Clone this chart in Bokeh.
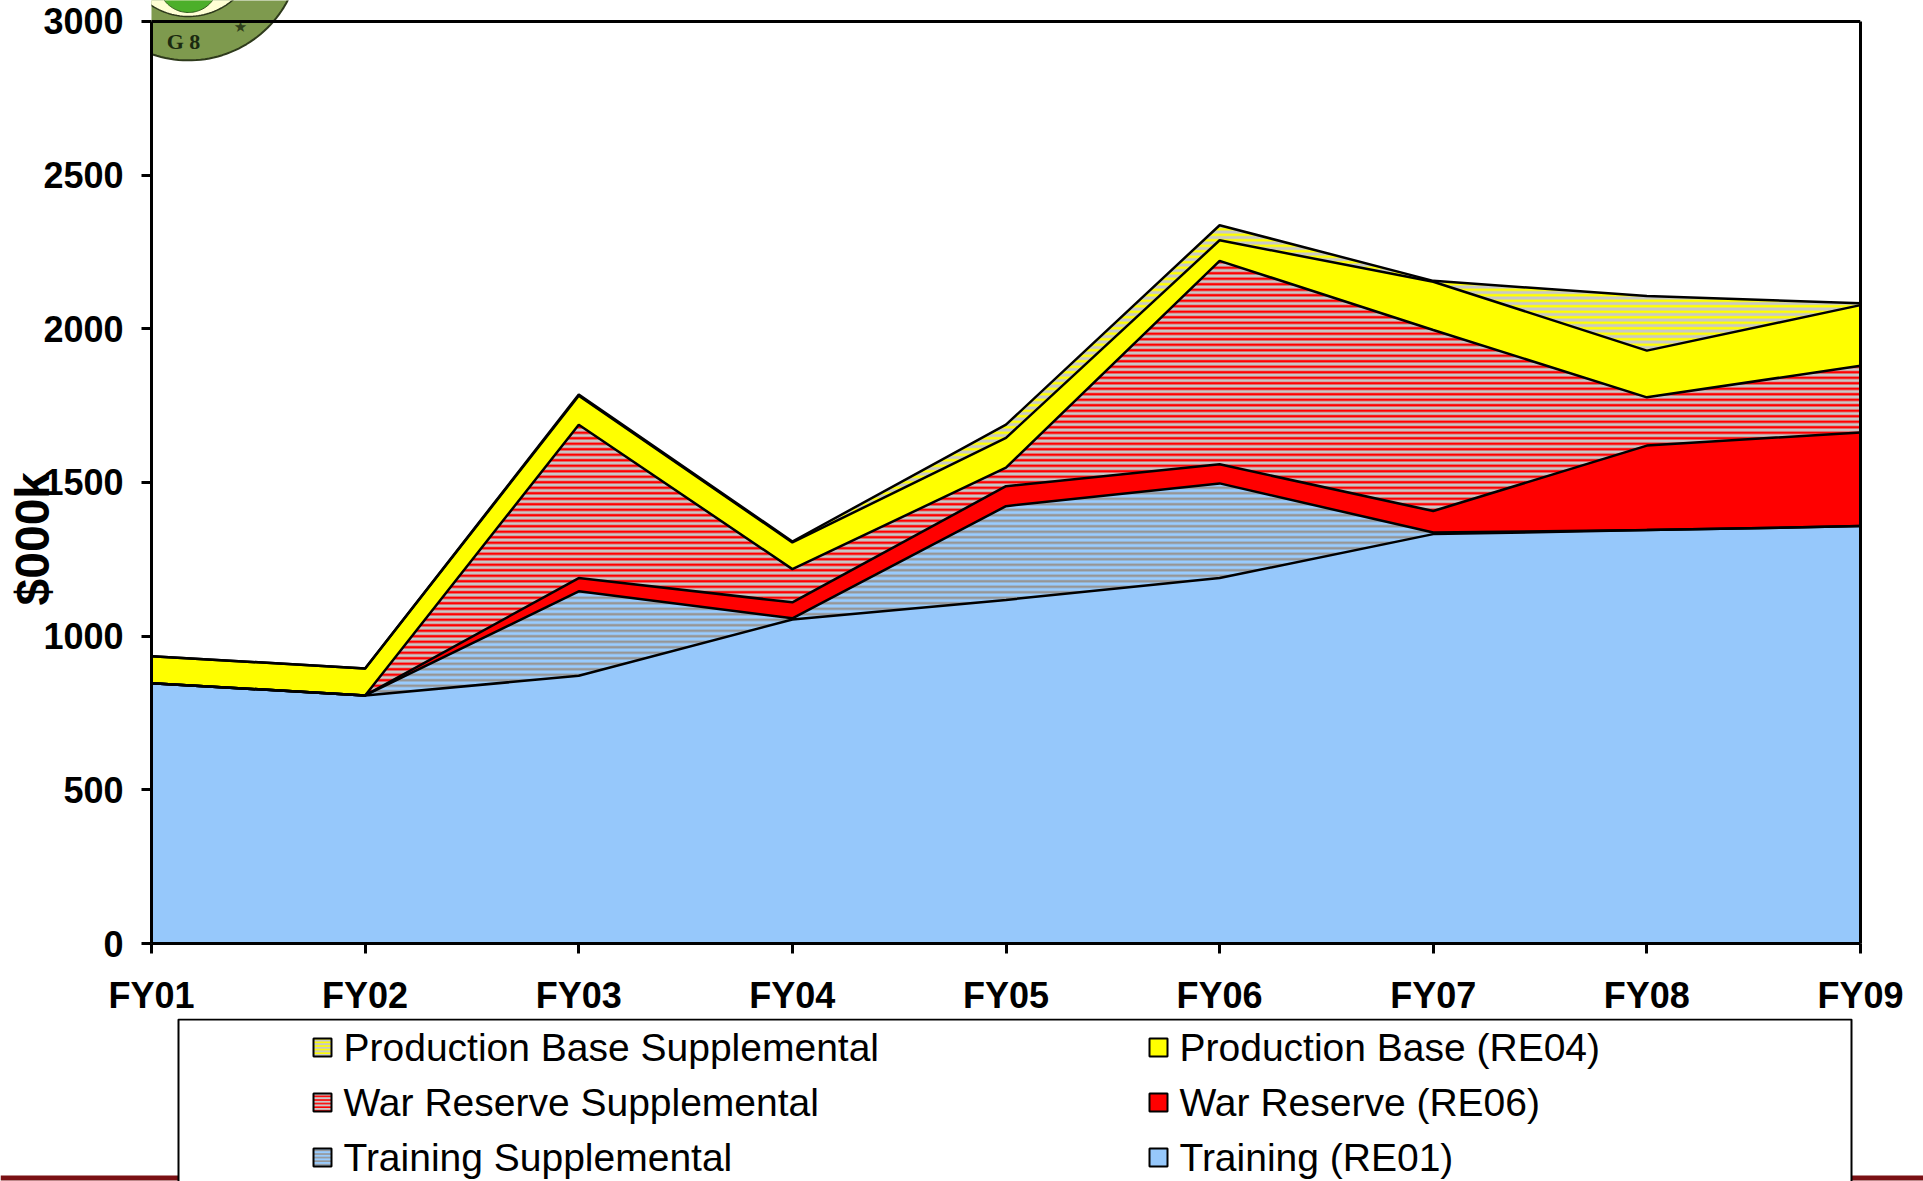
import numpy as np
from math import pi
from bokeh.plotting import figure
from bokeh.layouts import column
from bokeh.models import Range1d, FixedTicker, LinearAxis, Span
from bokeh.core.properties import value
from bokeh.embed import file_html
from bokeh.resources import INLINE

# ---- data (values in $000k) ----
years = ["FY01", "FY02", "FY03", "FY04", "FY05", "FY06", "FY07", "FY08", "FY09"]
training = [847, 807, 871, 1054, 1118, 1189, 1332, 1345, 1358]
training_supp = [0, 0, 275, 4, 305, 308, 5, 0, 0]
war_reserve = [0, 0, 43, 52, 65, 62, 70, 275, 305]
war_reserve_supp = [0, 0, 499, 108, 60, 662, 589, 157, 217]
production_base = [88, 88, 94, 87, 97, 67, 157, 152, 197]
production_base_supp = [0, 0, 4, 3, 43, 49, 3, 178, 6]
y_ticks = [0, 500, 1000, 1500, 2000, 2500, 3000]

HATCH = dict(hatch_pattern="horizontal_line", hatch_scale=5.5, hatch_weight=2.5)
series = [
    ("Training (RE01)", training, dict(fill_color="#96C8FB")),
    ("Training Supplemental", training_supp,
     dict(fill_color="#99CCFF", hatch_color="#969696", **HATCH)),
    ("War Reserve  (RE06)", war_reserve, dict(fill_color="#FF0000")),
    ("War Reserve  Supplemental", war_reserve_supp,
     dict(fill_color="#C8C8C8", hatch_color="#FF0000", **HATCH)),
    ("Production Base (RE04)", production_base, dict(fill_color="#FFFF00")),
    ("Production Base Supplemental", production_base_supp,
     dict(fill_color="#C8C8C8", hatch_color="#FFFF00", **HATCH)),
]

W = 1923
H_MAIN = 1018
H_LEG = 1181 - H_MAIN
FL, FR, FB = 151, 1860, 945      # frame left/right/bottom (canvas px)
Y_TOP_PX = 21                     # pixel row of the 3000 line
YMAX = 3000 * FB / (FB - Y_TOP_PX)
NX = len(years) - 1

def dx(px):
    return (px - FL) / (FR - FL) * NX

def dy(py):
    return (FB - py) / (FB - Y_TOP_PX) * 3000

p = figure(width=W, height=H_MAIN, output_backend="svg", toolbar_location=None,
           x_range=Range1d(0, NX), y_range=Range1d(0, YMAX))
p.min_border_left = FL
p.min_border_right = W - FR
p.min_border_top = 0
p.min_border_bottom = H_MAIN - FB
p.frame_align = False
p.xgrid.visible = False
p.ygrid.visible = False
p.outline_line_color = None
p.background_fill_color = "white"
p.border_fill_color = "white"

# --- slide logo (decoration at top-left, behind the frame) ---
def circ(cx, cy, r, n=160):
    t = np.linspace(0, 2 * pi, n)
    return [dx(cx + r * np.cos(a)) for a in t], [dy(cy + r * np.sin(a)) for a in t]

lx, ly = circ(188, -52, 112)
p.patch(lx, ly, fill_color="#7E9A4E", line_color="#2E3A1C", line_width=2)
lx, ly = circ(188, -52, 68)
p.patch(lx, ly, fill_color="#FFFFD5", line_color="#2E3A1C", line_width=1.5)
lx, ly = circ(188, -18, 30)
p.patch(lx, ly, fill_color="#4CAF2A", line_color="#2E5A1C", line_width=1)
p.text(x=[dx(183)], y=[dy(41)], text=["G 8"], text_align="center", text_baseline="middle",
       text_font=value("Liberation Serif"), text_font_style="bold",
       text_font_size=value("22px"), text_color="#1A2A10")
p.text(x=[dx(v) for v in (240,)], y=[dy(v) for v in (27,)],
       text=["\u2605"], text_align="center", text_baseline="middle",
       text_font=value("DejaVu Sans"), text_font_size=value("15px"), text_color="#2F3F1A")

# --- stacked areas ---
x = list(range(len(years)))
base = np.zeros(len(years))
tops = []
for name, vals, style in series:
    top = base + np.array(vals, dtype=float)
    p.varea(x=x, y1=base.tolist(), y2=top.tolist(), **style)
    tops.append(top)
    base = top
for top in tops:
    p.line(x=x, y=top.tolist(), line_color="black", line_width=2.5)

# top border of the plot box
p.add_layout(Span(location=3000, dimension="width", line_color="black", line_width=3))

for ax in (p.xaxis[0], p.yaxis[0]):
    ax.axis_line_width = 3
    ax.axis_line_color = "black"
    ax.major_tick_line_width = 3
    ax.major_tick_out = 10
    ax.major_tick_in = 0
    ax.minor_tick_line_color = None
    ax.major_label_text_font = "Liberation Sans"
    ax.major_label_text_font_style = "bold"
    ax.major_label_text_font_size = "36px"
    ax.major_label_text_color = "black"

p.xaxis.ticker = FixedTicker(ticks=x)
p.xaxis.major_label_overrides = {i: y for i, y in enumerate(years)}
p.xaxis.major_label_standoff = 21
p.yaxis.ticker = FixedTicker(ticks=y_ticks)
p.yaxis.bounds = (0, 3000)
p.yaxis.major_label_standoff = 18
p.yaxis.axis_label = "$000k" + "\u00a0" * 10
p.yaxis.axis_label_text_font = "Liberation Sans"
p.yaxis.axis_label_text_font_style = "bold"
p.yaxis.axis_label_text_font_size = "48px"
p.yaxis.axis_label_text_color = "black"
p.yaxis.axis_label_standoff = -19

# right border of the plot box
rax = LinearAxis(bounds=(0, 3000), ticker=FixedTicker(ticks=[]), axis_line_width=3,
                 axis_line_color="black", major_tick_line_color=None,
                 minor_tick_line_color=None, major_label_text_font_size="0px",
                 major_label_standoff=0)
p.add_layout(rax, "right")

# --- legend panel ---
leg = figure(width=W, height=H_LEG, output_backend="svg", toolbar_location=None,
             x_range=Range1d(0, W), y_range=Range1d(H_LEG, 0),
             x_axis_type=None, y_axis_type=None, min_border=0)
leg.frame_align = False
leg.outline_line_color = None
leg.background_fill_color = "white"
leg.border_fill_color = "white"

# slide bottom rule
leg.quad(left=[0, 1851], right=[178, W], top=[157, 157], bottom=[162, 162],
         fill_color="#7A1014", line_color=None)
# legend frame
leg.line(x=[178, 178, 1851, 1851], y=[H_LEG + 5, 1, 1, H_LEG + 5],
         line_color="black", line_width=2)

order = [5, 4, 3, 2, 1, 0]   # row-major: (left, right) per row
col_x = [313, 1149]
row_y = [29, 84, 139]
for k, idx in enumerate(order):
    name, vals, style = series[idx]
    gx = col_x[k % 2]
    cy = row_y[k // 2]
    st = dict(style)
    if "hatch_pattern" in st:
        st["hatch_scale"] = 3.6
        st["hatch_weight"] = 1.6
    leg.quad(left=[gx], right=[gx + 18], top=[cy - 9], bottom=[cy + 9],
             line_color="black", line_width=2, **st)
    leg.text(x=[gx + 30], y=[cy], text=[name], text_align="left", text_baseline="middle",
             text_font=value("Liberation Sans"), text_font_size=value("39px"),
             text_color="black")

layout = column(p, leg, spacing=0)
open("out.html", "w").write(file_html(layout, INLINE))
